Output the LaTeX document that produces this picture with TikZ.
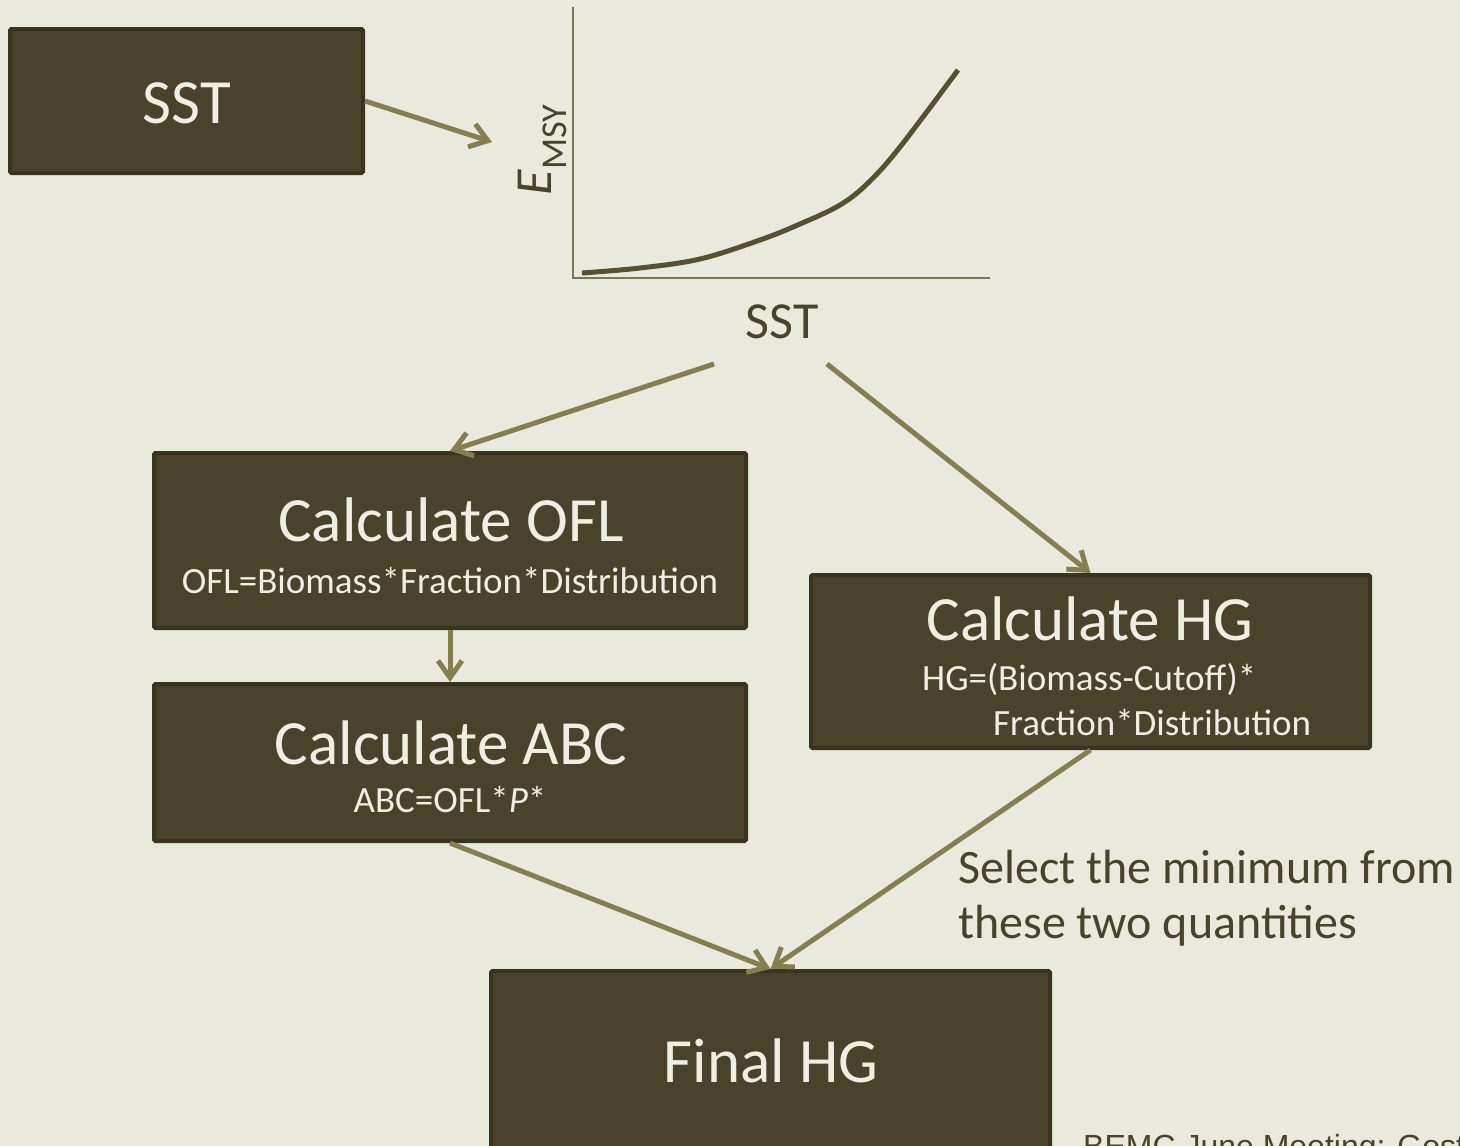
\documentclass[tikz,border=0pt]{standalone}
\usepackage{fontspec}
\setmainfont{Carlito}
\newfontfamily\footfont{Liberation Sans}
\usetikzlibrary{arrows.meta,positioning,calc}
\definecolor{paper}{HTML}{E9E9DD}
\definecolor{bark}{HTML}{4A432C}
\definecolor{barkedge}{HTML}{393320}
\definecolor{moss}{HTML}{857F50}
\definecolor{chalk}{HTML}{EFEEE4}
\definecolor{curveink}{HTML}{575132}
\definecolor{axisink}{HTML}{7B7655}
\tikzset{
  stepbox/.style={draw=barkedge,fill=bark,line width=4pt,rounded corners=1.5pt,inner sep=0pt},
  boxtext/.style={text=chalk,inner sep=0pt,anchor=base},
  big/.style={font=\fontsize{63}{70}\selectfont},
  small/.style={font=\fontsize{37}{45}\selectfont},
  chartlbl/.style={text=bark,inner sep=0pt,font=\fontsize{52}{60}\selectfont},
  flow/.style={draw=moss,line width=5pt,-{Straight Barb[length=17pt,width=24pt]}}
}
\begin{document}
\begin{tikzpicture}[x=1pt,y=-1pt]
  \useasboundingbox (0,0) rectangle (1460,1146);
  \clip (0,0) rectangle (1460,1146);
  \fill[paper] (0,0) rectangle (1460,1146);
  % boxes
  \node[stepbox,minimum width=353pt,minimum height=144pt] (sst) at (186.5,101) {};
  \node[stepbox,minimum width=592pt,minimum height=175pt] (ofl) at (450,540.5) {};
  \node[stepbox,minimum width=592pt,minimum height=157pt] (abc) at (450,762.5) {};
  \node[stepbox,minimum width=559pt,minimum height=173pt] (hg) at (1090.5,661.5) {};
  \node[stepbox,minimum width=559pt,minimum height=191pt] (final) at (770.5,1066.5) {};
  % box texts
  \node[boxtext,big] (ssttxt) at (187,123) {SST};
  \node[boxtext,big] (ofltxt) at (451,541) {Calculate OFL};
  \node[boxtext,small] (oflfx) at (450,593) {OFL=Biomass*Fraction*Distribution};
  \node[boxtext,big] (abctxt) at (451,764) {Calculate ABC};
  \node[boxtext,small] (abcfx) at (450,812) {ABC=OFL*\textit{P}*};
  \node[boxtext,big] (hgtxt) at (1090,640) {Calculate HG};
  \node[boxtext,small,anchor=base west,align=left] (hgfx) at (922,735) {HG=(Biomass-Cutoff)*\\\hspace*{71pt}Fraction*Distribution};
  \node[boxtext,big] (finaltxt) at (771,1082) {Final HG};
  % chart
  \draw[axisink,line width=2pt] (573,7) coordinate (ytop) -- (573,278) coordinate (origin) -- (990,278) coordinate (xend);
  \draw[curveink,line width=5pt] plot[smooth,tension=0.6] coordinates {(582,273) (640,268) (700,259) (760,240) (800,224) (840,205) (868,183) (900,147) (958,70)};
  \node[chartlbl,rotate=90] (ylab) at (542,150) {\textit{E}\textsubscript{MSY}};
  \node[chartlbl,anchor=base] (xlab) at (782,338) {SST};
  % free ends
  \coordinate (plotin) at (492,142);
  \coordinate (splitl) at (714,364);
  \coordinate (splitr) at (827,364);
  % arrows
  \draw[flow] (sst.east) -- (plotin);
  \draw[flow] (splitl) -- (ofl.north);
  \draw[flow] (splitr) -- (hg.north);
  \draw[flow] (ofl.south) -- (abc.north);
  \draw[flow] (abc.south) -- (final.north);
  \draw[flow] (hg.south) -- (final.north);
  % notes
  \node[text=bark,inner sep=0pt,anchor=base west,align=left,font=\fontsize{48}{55}\selectfont] (note) at (958,938) {Select the minimum from\\these two quantities};
  \node[text=bark,inner sep=0pt,anchor=base west,font=\footfont\fontsize{32}{36}\selectfont] (footer) at (1083,1157) {BEMC June Meeting: Gost};
\end{tikzpicture}
\end{document}
